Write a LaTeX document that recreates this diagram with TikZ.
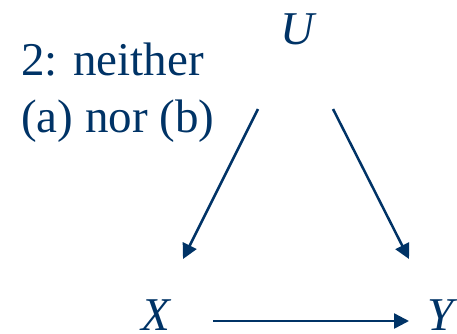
\documentclass[tikz,border=0pt]{standalone}
\usepackage{fontspec}
\setmainfont{LiberationSerif}[Extension=.ttf, UprightFont=*-Regular, ItalicFont=*-Italic, BoldFont=*-Bold]
\usetikzlibrary{arrows.meta}
\definecolor{navy}{RGB}{0,51,102}
\tikzset{
  var/.style={text=navy, inner sep=0pt, anchor=base, font=\rmfamily\fontsize{47}{56}\selectfont\itshape},
  lbl/.style={text=navy, inner sep=0pt, anchor=north west, align=left, font=\rmfamily\fontsize{47}{57}\selectfont},
  edge/.style={draw=navy, line width=2.5pt, -{Triangle[length=15pt,width=15pt]}}
}
\begin{document}
\begin{tikzpicture}[x=1pt,y=1pt]
\useasboundingbox (0,0) rectangle (457,-333);
\node[lbl] (cap) at (21,-43) {2: neither\\(a) nor (b)};
\node[var] (U) at (297,-44) {U};
\node[var] (X) at (156,-330) {X};
\node[var] (Y) at (441,-330) {Y};
\coordinate (ux) at (258,-109);
\coordinate (xu) at (183,-259);
\coordinate (uy) at (333,-109);
\coordinate (yu) at (409,-259);
\coordinate (xy) at (213,-321);
\coordinate (yx) at (409,-321);
\draw[edge] (ux) -- (xu);
\draw[edge] (uy) -- (yu);
\draw[edge] (xy) -- (yx);
\end{tikzpicture}
\end{document}
